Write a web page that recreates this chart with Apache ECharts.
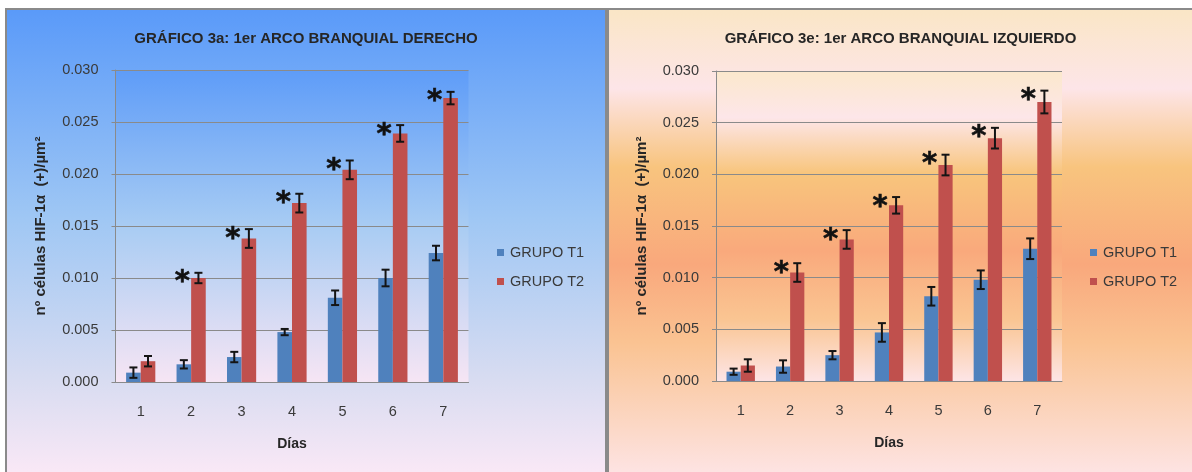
<!DOCTYPE html>
<html>
<head>
<meta charset="utf-8">
<script src="https://cdn.jsdelivr.net/npm/echarts@6/dist/echarts.min.js"></script>
<style>
html,body{margin:0;padding:0;background:#fff;width:1192px;height:472px;overflow:hidden;}
#frame{position:absolute;left:5px;top:8px;width:1187px;height:464px;background:#8a8a8a;}
#c1{position:absolute;left:7px;top:10px;width:598px;height:462px;}
#c2{position:absolute;left:609px;top:10px;width:583px;height:462px;}
</style>
</head>
<body>
<div id="frame"></div>
<div id="c1"></div>
<div id="c2"></div>
<script>
// ---- data ----
const days = ['1', '2', '3', '4', '5', '6', '7'];
const seriesNames = ['GRUPO T1', 'GRUPO T2'];
const yAxisTitle = 'nº células HIF-1α  (+)/µm²';
const xAxisTitle = 'Días';

const titleDer = 'GRÁFICO 3a: 1er ARCO BRANQUIAL DERECHO';
const derT1 = [0.0009, 0.0017, 0.0024, 0.0048, 0.0081, 0.0100, 0.0124];
const derT1Err = [0.0005, 0.0004, 0.0005, 0.0003, 0.0007, 0.0008, 0.0007];
const derT2 = [0.0020, 0.0100, 0.0138, 0.0172, 0.0204, 0.0239, 0.0273];
const derT2Err = [0.0005, 0.0005, 0.0009, 0.0009, 0.0009, 0.0008, 0.0006];
const derSig = [0, 1, 1, 1, 1, 1, 1];

const titleIzq = 'GRÁFICO 3e: 1er ARCO BRANQUIAL IZQUIERDO';
const izqT1 = [0.0009, 0.0014, 0.0025, 0.0047, 0.0082, 0.0098, 0.0128];
const izqT1Err = [0.0003, 0.0006, 0.0004, 0.0009, 0.0009, 0.0009, 0.0010];
const izqT2 = [0.0015, 0.0105, 0.0137, 0.0170, 0.0209, 0.0235, 0.0270];
const izqT2Err = [0.0006, 0.0009, 0.0009, 0.0008, 0.0010, 0.0010, 0.0011];
const izqSig = [0, 1, 1, 1, 1, 1, 1];

// ---- chart builder ----
const COLOR_T1 = '#4f81bd';
const COLOR_T2 = '#c0504d';

function grad(stops) {
  return new echarts.graphic.LinearGradient(0, 0, 0, 1,
    stops.map(s => ({offset: s[0], color: s[1]})));
}

function errSeries(vals, errs, sig, side, bw) {
  const data = vals.map((v, i) => [i, v, errs[i], sig ? sig[i] : 0]);
  return {
    type: 'custom',
    z: 10,
    silent: true,
    encode: {x: 0, y: 1},
    data: data,
    renderItem: function (params, api) {
      const i = api.value(0), v = api.value(1), e = api.value(2), s = api.value(3);
      const top = api.coord([i, v + e]);
      const bot = api.coord([i, v - e]);
      const cx = top[0] + side * bw / 2;
      const st = {stroke: '#141414', lineWidth: 2};
      const children = [
        {type: 'line', shape: {x1: cx, y1: top[1], x2: cx, y2: bot[1]}, style: st},
        {type: 'line', shape: {x1: cx - 4, y1: top[1], x2: cx + 4, y2: top[1]}, style: st},
        {type: 'line', shape: {x1: cx - 4, y1: bot[1], x2: cx + 4, y2: bot[1]}, style: st}
      ];
      if (s) {
        children.push({
          type: 'text',
          style: {
            text: '*', x: cx - 16, y: top[1] + 10,
            fill: '#111', font: 'bold 29px "DejaVu Sans"',
            stroke: '#111', lineWidth: 0.6,
            align: 'center', verticalAlign: 'middle'
          }
        });
      }
      return {type: 'group', children: children};
    }
  };
}

function build(el, cfg) {
  const chart = echarts.init(document.getElementById(el), null, {renderer: 'canvas'});
  const bw = cfg.bw;
  chart.setOption({
    backgroundColor: cfg.bg,
    animation: false,
    title: {
      text: cfg.title, left: 'center', top: 16,
      textStyle: {fontFamily: 'Liberation Sans', fontWeight: 'bold', fontSize: 15, color: '#262626'}
    },
    legend: {
      orient: 'vertical', left: cfg.legendLeft, top: 230,
      itemWidth: 7, itemHeight: 7, itemGap: 14, icon: 'rect',
      data: seriesNames,
      textStyle: {fontFamily: 'Liberation Sans', fontSize: 14.5, color: '#3a3a3a', padding: [0, 0, 0, 1]}
    },
    grid: {
      left: cfg.gridLeft, top: cfg.gridTop, width: cfg.gridWidth, height: cfg.gridHeight,
      show: true, borderWidth: 0, backgroundColor: cfg.plotBg
    },
    xAxis: {
      type: 'category', data: days,
      name: xAxisTitle, nameLocation: 'middle', nameGap: 55,
      nameTextStyle: {fontFamily: 'Liberation Sans', fontWeight: 'bold', fontSize: 14, color: '#262626'},
      axisLine: {lineStyle: {color: '#8a8a8a', width: 1}},
      axisTick: {show: false},
      axisLabel: {margin: 22, fontFamily: 'Liberation Sans', fontSize: 14.5, color: '#3a3a3a'}
    },
    yAxis: {
      type: 'value', min: 0, max: 0.03, interval: 0.005,
      name: yAxisTitle, nameLocation: 'middle', nameGap: 67, nameRotate: 90,
      nameTextStyle: {fontFamily: 'Liberation Sans', fontWeight: 'bold', fontSize: 15, color: '#262626'},
      axisLine: {show: true, lineStyle: {color: '#8a8a8a', width: 1}},
      axisTick: {show: true, length: 4, lineStyle: {color: '#8a8a8a'}},
      splitLine: {lineStyle: {color: '#8a8a8a', width: 1}},
      axisLabel: {
        margin: 17, fontFamily: 'Liberation Sans', fontSize: 14.5, color: '#3a3a3a',
        formatter: v => v.toFixed(3)
      }
    },
    series: [
      {name: seriesNames[0], type: 'bar', data: cfg.t1, barWidth: bw, barGap: '0%',
       itemStyle: {color: COLOR_T1}},
      {name: seriesNames[1], type: 'bar', data: cfg.t2, barWidth: bw, barGap: '0%',
       itemStyle: {color: COLOR_T2}},
      errSeries(cfg.t1, cfg.t1e, null, -1, bw),
      errSeries(cfg.t2, cfg.t2e, cfg.sig, 1, bw)
    ]
  });
}

build('c1', {
  title: titleDer, t1: derT1, t1e: derT1Err, t2: derT2, t2e: derT2Err, sig: derSig,
  bw: 14.6, gridLeft: 108.5, gridTop: 60, gridWidth: 353, gridHeight: 312, legendLeft: 485,
  bg: grad([[0, '#5a9af9'], [0.45, '#9fc7f4'], [0.8, '#d8dcf1'], [1, '#f9e8f6']]),
  plotBg: grad([[0, '#5e9cf8'], [0.5, '#a8ccf3'], [1, '#f6e5f4']])
});

build('c2', {
  title: titleIzq, t1: izqT1, t1e: izqT1Err, t2: izqT2, t2e: izqT2Err, sig: izqSig,
  bw: 14.2, gridLeft: 107, gridTop: 61, gridWidth: 346, gridHeight: 310, legendLeft: 476,
  bg: grad([[0, '#fae6c6'], [0.17, '#fde5e8'], [0.34, '#f8c47e'], [0.55, '#f9a87c'], [0.72, '#fac392'], [1, '#fde3e2']]),
  plotBg: grad([[0, '#fbe8cc'], [0.15, '#fde6e9'], [0.33, '#f8c57c'], [0.58, '#f9a97c'], [0.8, '#fac592'], [1, '#fde5e6']])
});
</script>
</body>
</html>
